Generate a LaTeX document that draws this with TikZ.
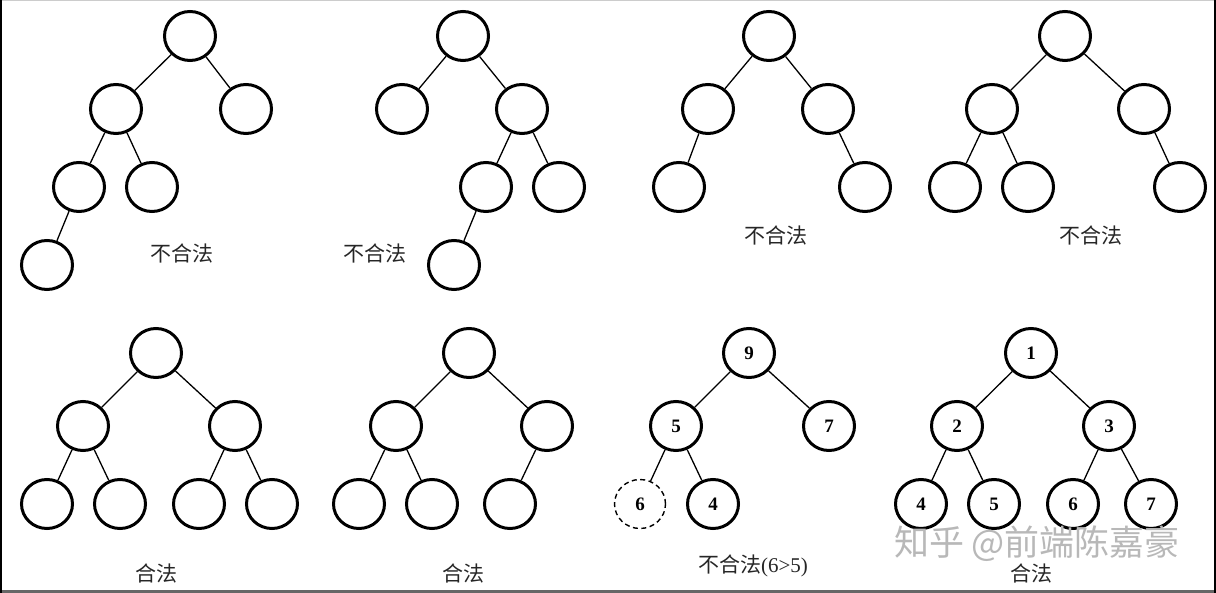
\documentclass[tikz,border=0pt]{standalone}
\usepackage{fontspec}
\setmainfont{Liberation Serif}
\newfontfamily\cjk{Noto Sans CJK SC}
\usepackage{tikz}
\usetikzlibrary{shapes.geometric}

\begin{document}
\begin{tikzpicture}[x=1pt, y=-1pt,
    heap/.style={ellipse, draw, line width=3pt, minimum width=51pt, minimum height=49pt, inner sep=0pt, font=\fontsize{19}{19}\selectfont\bfseries},
    ghost/.style={heap, line width=1.4pt, dash pattern=on 5pt off 3.5pt},
    edge/.style={line width=1.3pt},
    verdict/.style={font=\fontsize{21}{25}\selectfont, text=black!85, inner sep=0pt}
]
    \useasboundingbox (0,0) rectangle (1216,593);
    \draw[black!20, line width=1.5pt] (0,0.5) -- (1216,0.5);
    \draw[black!60, line width=2.5pt] (0,591.5) -- (1216,591.5);
    \draw[line width=2pt] (1,0) -- (1,593);
    \draw[line width=2pt] (1214.5,0) -- (1214.5,593);

    % top row
    \node[heap] (a1) at (190,36) {};
    \node[heap] (a2) at (116,109) {};
    \node[heap] (a3) at (246,109) {};
    \node[heap] (a4) at (79,187) {};
    \node[heap] (a5) at (152,187) {};
    \node[heap] (a8) at (47,265) {};
    \node[verdict] (la) at (182,253) {\cjk 不合法};
    \draw[edge] (a1) -- (a2) (a1) -- (a3) (a2) -- (a4) (a2) -- (a5) (a4) -- (a8);

    \node[heap] (b1) at (463,36) {};
    \node[heap] (b2) at (402,109) {};
    \node[heap] (b3) at (522,109) {};
    \node[heap] (b6) at (486,187) {};
    \node[heap] (b7) at (559,187) {};
    \node[heap] (b12) at (454,265) {};
    \node[verdict] (lb) at (375,253) {\cjk 不合法};
    \draw[edge] (b1) -- (b2) (b1) -- (b3) (b3) -- (b6) (b3) -- (b7) (b6) -- (b12);

    \node[heap] (c1) at (769,36) {};
    \node[heap] (c2) at (708,109) {};
    \node[heap] (c3) at (828,109) {};
    \node[heap] (c4) at (679,187) {};
    \node[heap] (c7) at (865,187) {};
    \node[verdict] (lc) at (776,235) {\cjk 不合法};
    \draw[edge] (c1) -- (c2) (c1) -- (c3) (c2) -- (c4) (c3) -- (c7);

    \node[heap] (d1) at (1065,36) {};
    \node[heap] (d2) at (992,109) {};
    \node[heap] (d3) at (1144,109) {};
    \node[heap] (d4) at (955,187) {};
    \node[heap] (d5) at (1028,187) {};
    \node[heap] (d7) at (1180,187) {};
    \node[verdict] (ld) at (1091,235) {\cjk 不合法};
    \draw[edge] (d1) -- (d2) (d1) -- (d3) (d2) -- (d4) (d2) -- (d5) (d3) -- (d7);

    % bottom row
    \node[heap] (e1) at (156,353) {};
    \node[heap] (e2) at (83,426) {};
    \node[heap] (e3) at (235,426) {};
    \node[heap] (e4) at (47,504) {};
    \node[heap] (e5) at (120,504) {};
    \node[heap] (e6) at (199,504) {};
    \node[heap] (e7) at (272,504) {};
    \node[verdict] (le) at (156,573) {\cjk 合法};
    \draw[edge] (e1) -- (e2) (e1) -- (e3) (e2) -- (e4) (e2) -- (e5) (e3) -- (e6) (e3) -- (e7);

    \node[heap] (f1) at (469,353) {};
    \node[heap] (f2) at (396,426) {};
    \node[heap] (f3) at (547,426) {};
    \node[heap] (f4) at (359,504) {};
    \node[heap] (f5) at (432,504) {};
    \node[heap] (f6) at (510,504) {};
    \node[verdict] (lf) at (463,573) {\cjk 合法};
    \draw[edge] (f1) -- (f2) (f1) -- (f3) (f2) -- (f4) (f2) -- (f5) (f3) -- (f6);

    \node[heap] (g1) at (749,353) {9};
    \node[heap] (g2) at (676,426) {5};
    \node[heap] (g3) at (829,426) {7};
    \node[ghost] (g4) at (640,504) {6};
    \node[heap] (g5) at (713,504) {4};
    \node[verdict] (lg) at (753,566) {{\cjk 不合法}(6>5)};
    \draw[edge] (g1) -- (g2) (g1) -- (g3) (g2) -- (g4) (g2) -- (g5);

    \node[heap] (h1) at (1031,353) {1};
    \node[heap] (h2) at (957,426) {2};
    \node[heap] (h3) at (1109,426) {3};
    \node[heap] (h4) at (921,504) {4};
    \node[heap] (h5) at (994,504) {5};
    \node[heap] (h6) at (1073,504) {6};
    \node[heap] (h7) at (1151,504) {7};
    \node[verdict] (lh) at (1031,573) {\cjk 合法};
    \draw[edge] (h1) -- (h2) (h1) -- (h3) (h2) -- (h4) (h2) -- (h5) (h3) -- (h6) (h3) -- (h7);

    \node[font=\fontsize{35}{35}\selectfont\cjk, text=black!28, inner sep=0pt] (mark) at (1037,544) {知乎 @前端陈嘉豪};
\end{tikzpicture}
\end{document}
